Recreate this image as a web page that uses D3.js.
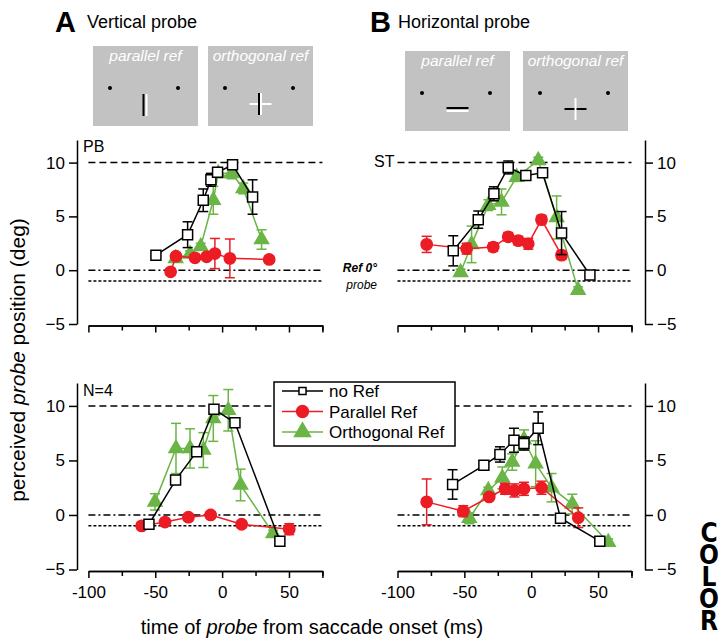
<!doctype html>
<meta charset='utf-8'>
<body style='margin:0;background:#fff'>
<script src='https://cdn.jsdelivr.net/npm/d3@7/dist/d3.min.js'></script>
<script>

var width = 725,
    height = 643,
    font = 'Liberation Sans, Arial, sans-serif';

// axis ticks
var timeTicks = [-100, -50, 0, 50],
    timeMinor = [-75, -25, 25, 75],
    posTicks = [-5, 0, 5, 10];

// each point: [time of probe (ms), perceived position (deg), error]
// A, subject PB (vertical probe)
var pbNoRef = [[-49.5, 1.4, 0.2], [-25.8, 3.3, 1.2], [-14.1, 6.5, 1.05], [-8.4, 8.4, 0.6], [-3.4, 9.1, 0.3], [7.8, 9.8, 0.3], [22.8, 6.8, 1.6]];
var pbParallel = [[-38.5, -0.15, 0.3], [-34.5, 1.3, 0.3], [-20.3, 1.15, 0.3], [-11.6, 1.25, 0.3], [-5.4, 1.55, 1.4], [5.8, 1.1, 1.8], [35.2, 1.0, 0.3]];
var pbOrtho = [[-34.7, 1.1, 0.3], [-24, 1.5, 0.3], [-16, 2.2, 0.3], [-6.6, 6.5, 1.3], [-2.9, 9.0, 0.4], [7.1, 9.0, 0.5], [15.8, 7.6, 0.5], [29.5, 2.85, 0.9]];

// B, subject ST (horizontal probe)
var stNoRef = [[-58.3, 1.8, 1.4], [-39.6, 4.7, 0.8], [-27.9, 7.1, 0.65], [-17.2, 9.55, 0.6], [-4, 8.8, 0.3], [8.5, 9.05, 0.3], [22.7, 3.45, 2.0], [43.9, -0.45, 0.3]];
var stParallel = [[-78.2, 2.4, 0.75], [-48.3, 2.0, 0.5], [-28.4, 2.15, 0.4], [-17.2, 3.1, 0.4], [-9.7, 2.75, 0.4], [-2.2, 2.45, 0.5], [7.7, 4.7, 0.4], [22.7, 1.4, 0.4]];
var stOrtho = [[-52.8, -0.2, 0.3], [-44.6, 2.4, 1.7], [-32.1, 6.05, 0.5], [-22.2, 6.35, 1.2], [-10.9, 8.65, 0.4], [5.3, 10.2, 0.3], [19, 4.9, 2.0], [35.1, -1.85, 0.3]];

// N=4, vertical probe
var nvNoRef = [[-54.7, -0.85, 0.3], [-34.8, 3.2, 0.4], [-19, 5.8, 0.3], [-6.1, 9.7, 0.3], [9.6, 8.45, 0.3], [43.2, -2.4, 0.3]];
var nvParallel = [[-60.2, -1.0, 0.3], [-42.7, -0.65, 0.3], [-25.2, -0.2, 0.3], [-8.6, 0.0, 0.3], [14.6, -0.85, 0.3], [50.2, -1.3, 0.5]];
var nvOrtho = [[-50.2, 1.2, 0.75], [-34.5, 6.1, 2.3], [-24, 6.1, 1.8], [-14, 5.95, 1.6], [-6.6, 8.85, 2.1], [4.6, 9.6, 1.9], [13.8, 2.75, 1.45], [38.2, -1.7, 0.3]];

// N=4, horizontal probe
var nhNoRef = [[-58.8, 2.8, 1.35], [-35.4, 4.55, 0.4], [-23.4, 5.55, 0.7], [-12.9, 6.85, 1.1], [-5.4, 6.55, 0.6], [5.2, 7.95, 1.5], [21.9, -0.3, 0.3], [51.3, -2.4, 0.4]];
var nhParallel = [[-78.2, 1.2, 2.1], [-50.8, 0.35, 0.5], [-31.4, 1.65, 0.3], [-19.6, 2.4, 0.5], [-12.6, 2.25, 0.6], [-5.4, 2.4, 0.6], [7.7, 2.5, 0.6], [35.2, -0.25, 0.9]];
var nhOrtho = [[-46.3, -0.3, 0.5], [-32.1, 2.25, 0.3], [-21.6, 3.4, 1.0], [-14.2, 4.85, 0.75], [-5.4, 6.9, 0.9], [3.3, 4.7, 2.1], [15.2, 2.5, 1.3], [30.7, 1.0, 0.9], [57.6, -2.5, 0.3]];

var seriesNames = ['no Ref', 'Parallel Ref', 'Orthogonal Ref'];

var style = {
  'no Ref':         {color: '#000000', shape: d3.symbolSquare, size: 100, fill: '#fff'},
  'Parallel Ref':   {color: '#ec1c24', shape: d3.symbolCircle, size: 100, fill: '#ec1c24'},
  'Orthogonal Ref': {color: '#6ab545', shape: d3.symbolTriangle, size: 85, fill: '#6ab545'}
};

var svg = d3.select('body').append('svg')
    .attr('width', width)
    .attr('height', height)
    .style('font-family', font);

svg.append('rect').attr('width', width).attr('height', height).attr('fill', '#fff');

function panel(o) {
  var x = d3.scaleLinear().domain([-100, 75]).range([o.x0, o.x0 + 234]);
  var y = d3.scaleLinear().domain([-5, 12.1]).range([o.yb, o.yt]);
  var g = svg.append('g');

  // reference lines: saccade target (10), ref (0) and probe (-1)
  [[10, '7,4'], [0, '7,3,2,3'], [-1, '3,2']].forEach(function(r) {
    g.append('line')
      .attr('x1', x(-100)).attr('x2', x(75))
      .attr('y1', y(r[0])).attr('y2', y(r[0]))
      .attr('stroke', '#000').attr('stroke-width', 1.5)
      .attr('stroke-dasharray', r[1]);
  });

  // y axis
  var ya = (o.right ? d3.axisRight(y) : d3.axisLeft(y))
      .tickValues(posTicks).tickSize(8).tickSizeOuter(0).tickPadding(4);
  var yg = g.append('g').attr('transform', 'translate(' + o.ax + ',0)').call(ya);

  // x axis, labels only on the lower row
  var xy = y(-5) + 1.5;
  var xa = d3.axisBottom(x).tickValues(timeTicks.concat([75])).tickSize(7).tickSizeOuter(0).tickPadding(8)
      .tickFormat(function(d) { return o.labels && d !== 75 ? d : ''; });
  var xg = g.append('g').attr('transform', 'translate(0,' + xy + ')').call(xa);
  var xm = d3.axisBottom(x).tickValues(timeMinor).tickSize(5).tickSizeOuter(0).tickFormat('');
  var xmg = g.append('g').attr('transform', 'translate(0,' + xy + ')').call(xm);

  [yg, xg, xmg].forEach(function(a) {
    a.attr('font-family', font).attr('font-size', 17);
    a.selectAll('path, line').attr('stroke', '#000').attr('stroke-width', 1.5);
    a.selectAll('text').attr('fill', '#000');
  });

  var line = d3.line().x(function(d) { return x(d[0]); }).y(function(d) { return y(d[1]); });

  ['Orthogonal Ref', 'Parallel Ref', 'no Ref'].forEach(function(name) {
    var s = style[name], data = o.series[name];
    var sg = g.append('g');
    sg.append('path').datum(data)
      .attr('d', line).attr('fill', 'none')
      .attr('stroke', s.color).attr('stroke-width', 1.5);
    var eb = sg.selectAll('.err').data(data).enter().append('g');
    eb.append('line')
      .attr('x1', function(d) { return x(d[0]); }).attr('x2', function(d) { return x(d[0]); })
      .attr('y1', function(d) { return y(d[1] - d[2]); }).attr('y2', function(d) { return y(d[1] + d[2]); });
    eb.append('line')
      .attr('x1', function(d) { return x(d[0]) - 5; }).attr('x2', function(d) { return x(d[0]) + 5; })
      .attr('y1', function(d) { return y(d[1] - d[2]); }).attr('y2', function(d) { return y(d[1] - d[2]); });
    eb.append('line')
      .attr('x1', function(d) { return x(d[0]) - 5; }).attr('x2', function(d) { return x(d[0]) + 5; })
      .attr('y1', function(d) { return y(d[1] + d[2]); }).attr('y2', function(d) { return y(d[1] + d[2]); });
    eb.selectAll('line').attr('stroke', s.color).attr('stroke-width', 1.5);
    sg.selectAll('.mk').data(data).enter().append('path')
      .attr('transform', function(d) { return 'translate(' + x(d[0]) + ',' + y(d[1]) + ')'; })
      .attr('d', d3.symbol().type(s.shape).size(s.size))
      .attr('fill', s.fill).attr('stroke', s.color).attr('stroke-width', 1.5);
  });
  return g;
}

panel({x0: 88.4, yt: 140, yb: 324, ax: 77, right: false, labels: false,
       series: {'no Ref': pbNoRef, 'Parallel Ref': pbParallel, 'Orthogonal Ref': pbOrtho}});
panel({x0: 397.5, yt: 140, yb: 324, ax: 645, right: true, labels: false,
       series: {'no Ref': stNoRef, 'Parallel Ref': stParallel, 'Orthogonal Ref': stOrtho}});
panel({x0: 88.4, yt: 383, yb: 569.5, ax: 77, right: false, labels: true,
       series: {'no Ref': nvNoRef, 'Parallel Ref': nvParallel, 'Orthogonal Ref': nvOrtho}});
panel({x0: 397.5, yt: 383, yb: 569.5, ax: 645, right: true, labels: true,
       series: {'no Ref': nhNoRef, 'Parallel Ref': nhParallel, 'Orthogonal Ref': nhOrtho}});

// panel labels
svg.append('text').attr('x', 83).attr('y', 152).attr('font-size', 16).text('PB');
svg.append('text').attr('x', 83).attr('y', 396).attr('font-size', 16).text('N=4');
svg.append('text').attr('x', 374).attr('y', 167).attr('font-size', 16).text('ST');
svg.append('text').attr('x', 377).attr('y', 272).attr('text-anchor', 'end')
   .attr('font-size', 12).attr('font-style', 'italic').attr('font-weight', 'bold').text('Ref 0°');
svg.append('text').attr('x', 377).attr('y', 289).attr('text-anchor', 'end')
   .attr('font-size', 12).attr('font-style', 'italic').text('probe');

// legend
var lg = svg.append('g');
lg.append('rect').attr('x', 274).attr('y', 382).attr('width', 181).attr('height', 64)
  .attr('fill', '#fff').attr('stroke', '#000').attr('stroke-width', 1.5);
seriesNames.forEach(function(name, i) {
  var s = style[name], cy = 391 + i * 20.5;
  lg.append('line').attr('x1', 282).attr('x2', 323).attr('y1', cy).attr('y2', cy)
    .attr('stroke', s.color).attr('stroke-width', 1.5);
  lg.append('path').attr('transform', 'translate(302.5,' + cy + ')')
    .attr('d', d3.symbol().type(s.shape).size(name === 'no Ref' ? 50 : 110))
    .attr('fill', s.fill).attr('stroke', s.color).attr('stroke-width', 1.5);
  lg.append('text').attr('x', 329).attr('y', cy + 6).attr('font-size', 17).text(name);
});

// axis titles
var xt = svg.append('text').attr('x', 312).attr('y', 634).attr('text-anchor', 'middle').attr('font-size', 20);
xt.append('tspan').text('time of ');
xt.append('tspan').attr('font-style', 'italic').text('probe');
xt.append('tspan').text(' from saccade onset (ms)');

var yt = svg.append('text').attr('transform', 'translate(25,360) rotate(-90)')
    .attr('text-anchor', 'middle').attr('font-size', 21);
yt.append('tspan').text('perceived ');
yt.append('tspan').attr('font-style', 'italic').text('probe');
yt.append('tspan').text(' position (deg)');

// headers
svg.append('text').attr('x', 55).attr('y', 32).attr('font-size', 29).attr('font-weight', 'bold').text('A');
svg.append('text').attr('x', 87).attr('y', 28).attr('font-size', 18).text('Vertical probe');
svg.append('text').attr('x', 370).attr('y', 32).attr('font-size', 29).attr('font-weight', 'bold').text('B');
svg.append('text').attr('x', 398).attr('y', 28).attr('font-size', 18).text('Horizontal probe');

// stimulus sketches
var boxes = [
  {x: 93, y: 46, label: 'parallel ref', kind: 'vp'},
  {x: 208, y: 46, label: 'orthogonal ref', kind: 'vo'},
  {x: 405, y: 51, label: 'parallel ref', kind: 'hp'},
  {x: 523, y: 51, label: 'orthogonal ref', kind: 'ho'}
];
boxes.forEach(function(b) {
  var w = 105, h = 80, g = svg.append('g').attr('transform', 'translate(' + b.x + ',' + b.y + ')');
  g.append('rect').attr('width', w).attr('height', h).attr('fill', '#c2c2c2');
  g.append('text').attr('x', w / 2).attr('y', 15).attr('text-anchor', 'middle')
    .attr('font-size', 15.5).attr('font-style', 'italic').attr('fill', '#fff').text(b.label);
  [17, w - 20].forEach(function(cx) {
    g.append('circle').attr('cx', cx).attr('cy', 42).attr('r', 2).attr('fill', '#000');
  });
  var cx = w / 2, cy = 58;
  function seg(x1, y1, x2, y2, c) {
    g.append('line').attr('x1', x1).attr('y1', y1).attr('x2', x2).attr('y2', y2)
      .attr('stroke', c).attr('stroke-width', 2);
  }
  if (b.kind === 'vp') { seg(cx - 2, cy - 10, cx - 2, cy + 12, '#000'); seg(cx + 1, cy - 10, cx + 1, cy + 12, '#fff'); }
  if (b.kind === 'vo') { seg(cx - 11, cy, cx + 11, cy, '#fff'); seg(cx - 1.5, cy - 11, cx - 1.5, cy + 11, '#000'); seg(cx + 0.5, cy - 11, cx + 0.5, cy + 11, '#fff'); }
  if (b.kind === 'hp') { seg(cx - 11, cy - 1, cx + 11, cy - 1, '#000'); seg(cx - 11, cy + 2, cx + 11, cy + 2, '#fff'); }
  if (b.kind === 'ho') { seg(cx - 11, cy, cx + 11, cy, '#000'); seg(cx, cy - 11, cx, cy + 11, '#fff'); }
});

// side stamp, letters stacked upright in one vertical text
svg.append('text')
    .attr('x', 709).attr('y', 518)
    .style('writing-mode', 'vertical-rl')
    .style('text-orientation', 'upright')
    .style('letter-spacing', '-8px')
    .attr('font-family', 'Liberation Sans Narrow, DejaVu Sans Condensed, sans-serif')
    .attr('font-weight', 'bold').attr('font-size', 26)
    .text('COLOR');

</script>
